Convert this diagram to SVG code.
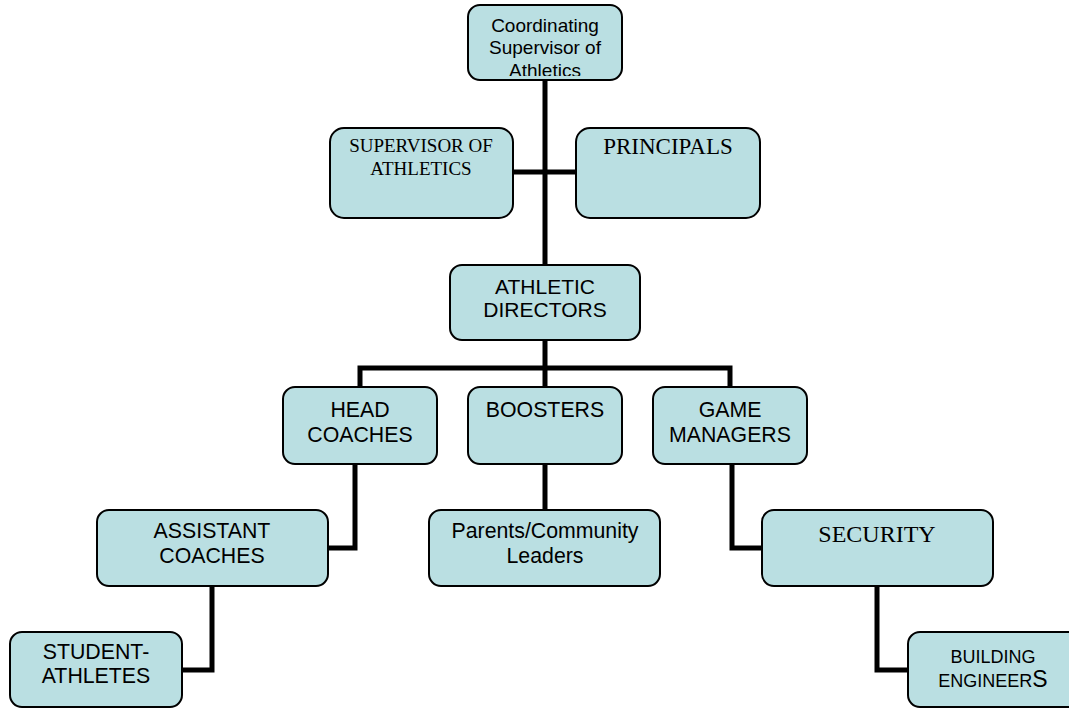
<svg xmlns="http://www.w3.org/2000/svg" width="1069" height="710" viewBox="0 0 1069 710">
<style>
.box{fill:#badfe2;stroke:#000;stroke-width:2}
.s{font-family:"Liberation Sans",Arial,sans-serif;fill:#000;text-anchor:middle}
.r{font-family:"Liberation Serif","Times New Roman",serif;fill:#000;text-anchor:middle}
.c{fill:none;stroke:#000;stroke-width:5}
</style>
<defs>
<clipPath id="clipTop"><rect x="468" y="5" width="154" height="71"/></clipPath>
</defs>
<rect width="1069" height="710" fill="#fff"/>
<g id="connectors">
<path class="c" d="M545 80V368"/>
<path class="c" d="M513 172H575"/>
<path class="c" d="M360 387V368H730V387"/>
<path class="c" d="M545 368V387"/>
<path class="c" d="M355 464V548H328"/>
<path class="c" d="M545 464V510"/>
<path class="c" d="M732 464V548H762"/>
<path class="c" d="M877 585V670H908"/>
<path class="c" d="M212 585V670H182"/>
</g>
<g id="n_coord">
<rect class="box" x="468" y="5" width="154" height="75" rx="12"/>
<g clip-path="url(#clipTop)">
<text class="s" font-size="19" x="545" y="32">Coordinating</text>
<text class="s" font-size="19" x="545" y="54">Supervisor of</text>
<text class="s" font-size="19" x="545" y="77">Athletics</text>
</g>
</g>
<g id="n_supervisor">
<rect class="box" x="330" y="128" width="183" height="90" rx="14"/>
<text class="r" font-size="19" x="421" y="152">SUPERVISOR OF</text>
<text class="r" font-size="19" x="421" y="175">ATHLETICS</text>
</g>
<g id="n_principals">
<rect class="box" x="576" y="128" width="184" height="90" rx="14"/>
<text class="r" font-size="23" x="668" y="154">PRINCIPALS</text>
</g>
<g id="n_ad">
<rect class="box" x="450" y="265" width="190" height="75" rx="12"/>
<text class="s" font-size="21" x="545" y="294">ATHLETIC</text>
<text class="s" font-size="21" x="545" y="317">DIRECTORS</text>
</g>
<g id="n_head">
<rect class="box" x="283" y="387" width="154" height="77" rx="12"/>
<text class="s" font-size="21.3" x="360" y="417">HEAD</text>
<text class="s" font-size="21.3" x="360" y="442">COACHES</text>
</g>
<g id="n_boosters">
<rect class="box" x="468" y="387" width="154" height="77" rx="12"/>
<text class="s" font-size="21.3" x="545" y="417">BOOSTERS</text>
</g>
<g id="n_game">
<rect class="box" x="653" y="387" width="154" height="77" rx="12"/>
<text class="s" font-size="21.3" x="730" y="417">GAME</text>
<text class="s" font-size="21.3" x="730" y="442">MANAGERS</text>
</g>
<g id="n_assistant">
<rect class="box" x="97" y="510" width="231" height="76" rx="12"/>
<text class="s" font-size="21.3" x="212" y="538">ASSISTANT</text>
<text class="s" font-size="21.3" x="212" y="563">COACHES</text>
</g>
<g id="n_parents">
<rect class="box" x="429" y="510" width="231" height="76" rx="12"/>
<text class="s" font-size="21.3" x="545" y="538">Parents/Community</text>
<text class="s" font-size="21.3" x="545" y="563">Leaders</text>
</g>
<g id="n_security">
<rect class="box" x="762" y="510" width="231" height="76" rx="12"/>
<text class="r" font-size="24" x="877" y="542">SECURITY</text>
</g>
<g id="n_student">
<rect class="box" x="10" y="632" width="172" height="75" rx="12"/>
<text class="s" font-size="21.3" x="96" y="659">STUDENT-</text>
<text class="s" font-size="21.3" x="96" y="683">ATHLETES</text>
</g>
<g id="n_building">
<rect class="box" x="908" y="632" width="175" height="75" rx="12"/>
<text class="s" font-size="18" x="993" y="663">BUILDING</text>
<text class="s" font-size="18" x="993" y="687">ENGINEER<tspan font-size="23">S</tspan></text>
</g>
</svg>
